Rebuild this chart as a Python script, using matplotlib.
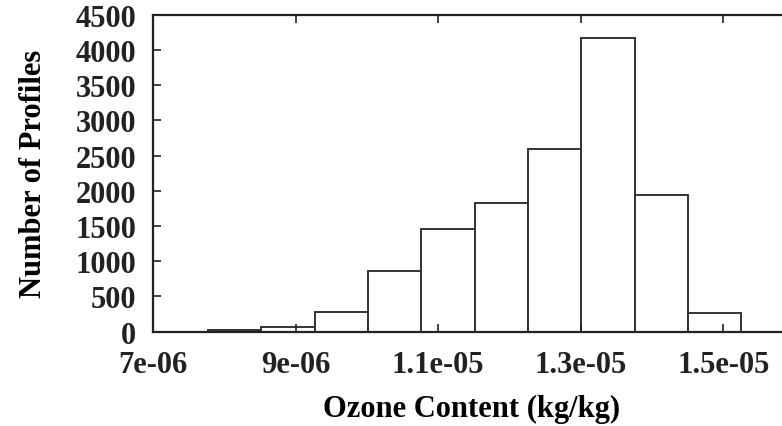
import matplotlib
matplotlib.use('Agg')
import matplotlib.pyplot as plt
import numpy

# histogram bins (kg/kg) and counts
bin_start = 7.772e-06
bin_width = 0.748e-06
counts = [15, 65, 280, 855, 1455, 1830, 2597, 4165, 1943, 258]

xtick_values = [7e-06, 9e-06, 1.1e-05, 1.3e-05, 1.5e-05]
xtick_labels = ['7e-06', '9e-06', '1.1e-05', '1.3e-05', '1.5e-05']
ytick_values = [0, 500, 1000, 1500, 2000, 2500, 3000, 3500, 4000, 4500]


def main():
    plt.rcParams['font.family'] = ['Liberation Serif', 'DejaVu Serif']
    plt.rcParams['font.weight'] = 'bold'

    fig = plt.figure(figsize=(7.82, 4.27), dpi=100)
    ax = fig.add_axes([0.1957, 0.2213, 0.815, 0.7418])

    lefts = bin_start + bin_width * numpy.arange(len(counts))
    ax.bar(lefts, counts, width=bin_width, align='edge', color='white',
           edgecolor='#333333', linewidth=1.4)

    ax.set_xlim(7e-06, 15.94e-06)
    ax.set_ylim(0, 4500)
    ax.set_xticks(xtick_values)
    ax.set_xticklabels(xtick_labels)
    ax.set_yticks(ytick_values)
    ax.set_yticklabels([str(v) for v in ytick_values])

    ax.tick_params(direction='in', length=5.5, width=1.2, labelsize=22,
                   top=True, right=True, colors='#222222')
    ax.tick_params(axis='y', pad=12)
    ax.tick_params(axis='x', pad=13)
    for side in ax.spines.values():
        side.set_linewidth(1.6)
        side.set_color('#222222')

    ax.set_xlabel('Ozone Content (kg/kg)', fontsize=22, fontweight='bold',
                  labelpad=11)
    ax.set_ylabel('Number of Profiles', fontsize=22, fontweight='bold',
                  labelpad=20)

    fig.savefig('out.png', dpi=100)


if __name__ == '__main__':
    main()
